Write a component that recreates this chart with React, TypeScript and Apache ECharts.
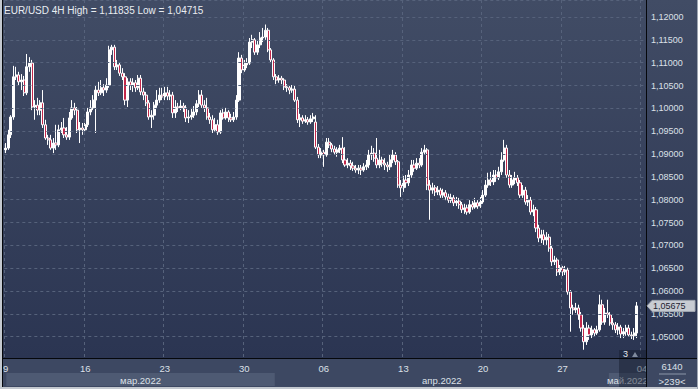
import React, { useEffect, useRef } from "react";
import * as echarts from "echarts";

const TITLE = "EUR/USD 4H High = 1,11835 Low = 1,04715";
const FONT = "'Liberation Sans', Arial, sans-serif";

// 4H candles from 9 Mar 2022, prices x 10000
const opens = [
  10909,10913,10942,10981,11069,11073,11058,11062,11034,11091,
  11099,11003,11007,10996,11012,10964,10935,10931,10913,10924,
  10920,10953,10957,10942,10937,10979,11001,10996,10953,10957,
  10953,10964,10992,11001,11018,11040,11034,11045,11040,11051,
  11128,11134,11091,11095,11077,11069,11018,11058,11051,11056,
  11045,11066,11036,11029,11012,10981,10985,11007,11018,11029,
  11025,11034,11027,11029,10990,11003,11001,11005,11001,10979,
  10981,10985,10992,11010,11029,11007,11001,10981,10975,10953,
  10964,10948,10990,10979,10992,10979,10975,10981,11018,11110,
  11084,11095,11099,11145,11150,11123,11139,11154,11156,11171,
  11128,11106,11069,11062,11066,11062,11047,11045,11040,11042,
  11018,10975,10979,10972,10975,10970,10977,10970,10915,10898,
  10904,10898,10926,10920,10911,10904,10909,10913,10887,10876,
  10880,10874,10869,10865,10869,10865,10872,10876,10898,10902,
  10891,10876,10887,10880,10876,10872,10887,10898,10883,10832,
  10826,10843,10837,10854,10876,10869,10880,10876,10904,10909,
  10832,10821,10826,10817,10821,10810,10815,10806,10799,10804,
  10793,10797,10789,10778,10782,10773,10789,10784,10793,10786,
  10795,10810,10832,10843,10839,10854,10848,10861,10887,10913,
  10854,10832,10843,10848,10837,10810,10821,10795,10799,10773,
  10778,10738,10716,10723,10712,10718,10694,10664,10668,10642,
  10651,10642,10646,10598,10563,10559,10563,10548,10519,10489,
  10519,10504,10515,10508,10515,10570,10532,10552,10548,10530,
  10526,10515,10521,10506,10511,10519,10504,10502,10508,
];
const closes = [
  10913,10942,10981,11069,11073,11058,11062,11034,11091,11099,
  11003,11007,10996,11012,10964,10935,10931,10913,10924,10920,
  10953,10957,10942,10937,10979,11001,10996,10953,10957,10953,
  10964,10992,11001,11018,11040,11034,11045,11040,11051,11128,
  11134,11091,11095,11077,11069,11018,11058,11051,11056,11045,
  11066,11036,11029,11012,10981,10985,11007,11018,11029,11025,
  11034,11027,11029,10990,11003,11001,11005,11001,10979,10981,
  10985,10992,11010,11029,11007,11001,10981,10975,10953,10964,
  10948,10990,10979,10992,10979,10975,10981,11018,11110,11084,
  11095,11099,11145,11150,11123,11139,11154,11156,11171,11128,
  11106,11069,11062,11066,11062,11047,11045,11040,11042,11018,
  10975,10979,10972,10975,10970,10977,10981,10915,10898,10904,
  10898,10926,10920,10911,10904,10909,10913,10887,10876,10880,
  10874,10869,10865,10869,10865,10872,10876,10898,10902,10891,
  10876,10887,10880,10876,10872,10887,10898,10883,10832,10826,
  10843,10837,10854,10876,10869,10880,10876,10904,10909,10832,
  10821,10826,10817,10821,10810,10815,10806,10799,10804,10793,
  10797,10789,10778,10782,10773,10789,10784,10793,10786,10795,
  10810,10832,10843,10839,10854,10848,10861,10887,10913,10854,
  10832,10843,10848,10837,10810,10821,10795,10799,10773,10778,
  10738,10716,10723,10712,10718,10694,10664,10668,10642,10651,
  10642,10646,10598,10563,10559,10563,10548,10519,10489,10519,
  10504,10515,10508,10515,10570,10532,10552,10548,10530,10526,
  10515,10521,10506,10511,10519,10504,10502,10508,10567.5,
];
const highs = [
  10924,10953,10985,11093,11091,11080,11075,11071,11119,11112,
  11106,11018,11023,11018,11040,10975,10942,10942,10935,10964,
  10964,10970,10979,10959,10992,11018,11012,11003,10970,10968,
  10975,11001,11018,11029,11051,11058,11062,11053,11066,11137,
  11139,11139,11106,11101,11088,11077,11066,11066,11066,11062,
  11073,11073,11045,11036,11018,10996,11014,11040,11045,11045,
  11047,11047,11040,11036,11018,11012,11018,11012,11007,10996,
  11001,11005,11018,11040,11040,11018,11023,10990,10985,10979,
  10975,10996,11001,11001,10996,10988,10992,11029,11123,11117,
  11106,11110,11154,11161,11154,11150,11167,11176,11183.5,11176,
  11132,11110,11075,11073,11071,11066,11053,11049,11051,11049,
  11025,10988,10985,10985,10981,10985,10990,10985,10922,10913,
  10909,10935,10935,10924,10918,10915,10920,10937,10915,10891,
  10887,10883,10876,10876,10876,10880,10887,10909,10918,10913,
  10935,10909,10894,10891,10883,10898,10909,10904,10887,10843,
  10852,10854,10865,10887,10887,10891,10891,10913,10920,10913,
  10843,10837,10832,10830,10826,10824,10821,10813,10813,10810,
  10806,10804,10795,10791,10789,10799,10797,10804,10799,10806,
  10821,10843,10859,10861,10865,10865,10872,10904,10931,10920,
  10865,10854,10861,10854,10843,10832,10828,10810,10806,10789,
  10784,10745,10734,10734,10729,10725,10701,10677,10673,10657,
  10655,10655,10651,10602,10570,10574,10570,10554,10526,10532,
  10526,10524,10519,10524,10592,10581,10563,10581,10554,10541,
  10532,10530,10526,10519,10526,10526,10511,10519,10576,
];
const lows = [
  10902,10909,10935,10975,11062,11051,11040,11027,11029,11080,
  10996,10975,10985,10985,10957,10931,10920,10909,10902,10909,
  10915,10946,10935,10931,10931,10975,10985,10946,10924,10942,
  10946,10959,10985,10996,10946,11027,11029,11027,11034,11045,
  11117,11084,11084,11071,11062,11007,11003,11040,11036,11036,
  11040,11029,11018,11005,10975,10957,10975,11001,11012,11018,
  11018,11018,11018,10979,10979,10992,10996,10992,10970,10968,
  10975,10979,10985,11003,11001,10992,10975,10966,10946,10948,
  10942,10944,10975,10975,10970,10970,10970,10975,11014,11077,
  11080,11088,11095,11132,11117,11117,11132,11145,11150,11123,
  11099,11062,11053,11056,11053,11040,11036,11031,11034,11014,
  10968,10959,10966,10968,10964,10966,10970,10911,10891,10891,
  10872,10894,10913,10904,10898,10894,10902,10880,10872,10869,
  10865,10863,10859,10856,10854,10861,10865,10869,10887,10883,
  10869,10869,10872,10865,10861,10865,10880,10876,10826,10806,
  10817,10826,10830,10848,10861,10865,10869,10872,10898,10821,
  10756,10813,10808,10810,10804,10804,10799,10793,10793,10786,
  10786,10780,10771,10769,10767,10769,10778,10780,10780,10782,
  10791,10806,10826,10830,10832,10839,10843,10854,10883,10848,
  10826,10826,10834,10830,10804,10804,10789,10786,10767,10764,
  10729,10707,10705,10701,10701,10686,10655,10657,10633,10635,
  10633,10635,10592,10511,10548,10552,10537,10511,10471.5,10482,
  10493,10497,10500,10504,10511,10526,10526,10541,10524,10515,
  10508,10504,10497,10497,10502,10500,10495,10493,10497,
];

const slotCount = 242; // candle slots on the time axis (239 bars + right margin)
const weekTickIndex = [0, 30, 60, 90, 120, 150, 180, 210, 240];
const weekTickLabels = ["9", "16", "23", "30", "06", "13", "20", "27", "04"];
const monthStartIndex = [0, 102, 228];
const monthLabels = ["мар.2022", "апр.2022", "май.2022"];
const monthShaded = [true, false, true];
const yMin = 1.04534;
const yMax = 1.12372;
const barsTotal = "6140";
const barsVisible = ">239<";
const markerLabel = "3";

const fmtPrice = (v: number) => v.toFixed(5).replace(".", ",");

export default function App() {
  const ref = useRef<HTMLDivElement>(null);
  useEffect(() => {
    const el = ref.current!;
    const chart = echarts.init(el, null, { renderer: "svg" });
    const categories = Array.from({ length: slotCount }, (_, i) => String(i));
    const data = opens.map((o, i) => [o / 1e4, closes[i] / 1e4, lows[i] / 1e4, highs[i] / 1e4]);
    const isTick = (i: number) => weekTickIndex.indexOf(i) >= 0;
    const gridColor = "#56627b";
    const labelColor = "#dce0e8";

    chart.setOption({
      animation: false,
      backgroundColor: "transparent",
      textStyle: { fontFamily: FONT },
      grid: { left: 3, right: 52, top: 0, bottom: 31, show: false },
      xAxis: {
        type: "category",
        data: categories,
        boundaryGap: true,
        z: 3,
        axisLine: { show: false },
        axisTick: { show: false },
        axisLabel: {
          interval: (i: number) => isTick(i),
          formatter: (_v: string, i: number) => {
            const k = weekTickIndex.indexOf(i);
            return k >= 0 ? weekTickLabels[k] : "";
          },
          color: labelColor,
          fontSize: 9.5,
          fontFamily: FONT,
          margin: 5,
        },
        splitLine: {
          show: true,
          interval: (i: number) => isTick(i),
          lineStyle: { color: gridColor, type: [3, 3], width: 1 },
        },
      },
      yAxis: {
        type: "value",
        position: "right",
        min: yMin,
        max: yMax,
        splitNumber: 15,
        minInterval: 0.005,
        maxInterval: 0.005,
        z: 3,
        axisLine: { show: false },
        axisTick: { show: false },
        axisLabel: {
          showMinLabel: false,
          showMaxLabel: false,
          formatter: (v: number) => fmtPrice(v),
          color: labelColor,
          fontSize: 9,
          fontFamily: FONT,
          margin: 5,
        },
        splitLine: { show: true, lineStyle: { color: gridColor, type: [3, 3], width: 1 } },
      },
      series: [
        {
          type: "candlestick",
          data,
          barWidth: 2.6,
          itemStyle: {
            color: "#ffffff",
            color0: "#c3274a",
            borderColor: "#ffffff",
            borderColor0: "#ffffff",
            borderWidth: 1,
          },
        },
      ],
    });

    const px = (i: number) => chart.convertToPixel({ xAxisIndex: 0 }, i) as number;
    const band = px(1) - px(0);
    const plotRight = 646;
    const edges = monthStartIndex.map((i, k) => (k === 0 ? px(i) - band / 2 + 2 : px(i) - band / 2));
    const lastY = chart.convertToPixel({ yAxisIndex: 0 }, closes[closes.length - 1] / 1e4) as number;

    const elements: any[] = [];
    elements.push({ type: "rect", shape: { x: 0, y: 359, width: 698, height: 30 }, style: { fill: "#3d4862" }, z: 1 });
    monthLabels.forEach((m, k) => {
      const x0 = edges[k];
      const x1 = k + 1 < edges.length ? edges[k + 1] : plotRight;
      if (monthShaded[k]) {
        elements.push({ type: "rect", shape: { x: x0, y: 373, width: x1 - x0, height: 13 }, style: { fill: "#4e5a73" }, z: 1 });
      }
      elements.push({
        type: "text",
        style: { text: m, x: (x0 + x1) / 2, y: 380, fill: labelColor, font: `9.5px ${FONT}`, textAlign: "center", textVerticalAlign: "middle" },
        z: 4,
      });
    });
    // marker and overlay near the right end
    elements.push({ type: "rect", shape: { x: 619, y: 350, width: 27, height: 39 }, style: { fill: "rgba(20,27,44,0.45)" }, z: 5 });
    elements.push({
      type: "text",
      style: { text: markerLabel, x: 625.5, y: 354, fill: "#e4e8ee", font: `9px ${FONT}`, textAlign: "center", textVerticalAlign: "middle" },
      z: 6,
    });
    elements.push({ type: "polygon", shape: { points: [[632, 357], [635, 352], [638, 357]] }, style: { fill: "#7f8a9e" }, z: 6 });
    // bottom right box
    elements.push({ type: "rect", shape: { x: 647, y: 359, width: 51, height: 30 }, style: { fill: "#3d4862" }, z: 5 });
    elements.push({
      type: "text",
      style: { text: barsTotal, x: 672, y: 366, fill: labelColor, font: `9.5px ${FONT}`, textAlign: "center", textVerticalAlign: "middle" },
      z: 6,
    });
    elements.push({ type: "line", shape: { x1: 659, y1: 374, x2: 686, y2: 374 }, style: { stroke: "#8c96a8", lineWidth: 1 }, z: 6 });
    elements.push({
      type: "text",
      style: { text: barsVisible, x: 672, y: 381, fill: labelColor, font: `9.5px ${FONT}`, textAlign: "center", textVerticalAlign: "middle" },
      z: 6,
    });
    // axis frame lines
    elements.push({ type: "line", shape: { x1: 0, y1: 358.5, x2: 698, y2: 358.5 }, style: { stroke: "#05070b", lineWidth: 1 }, z: 7 });
    elements.push({ type: "line", shape: { x1: 646.5, y1: 0, x2: 646.5, y2: 389 }, style: { stroke: "#05070b", lineWidth: 1 }, z: 7 });
    elements.push({ type: "line", shape: { x1: 2.5, y1: 0, x2: 2.5, y2: 389 }, style: { stroke: "#05070b", lineWidth: 1 }, z: 7 });
    elements.push({ type: "rect", shape: { x: 0, y: 0, width: 2, height: 389 }, style: { fill: "#c3c8cf" }, z: 8 });
    elements.push({ type: "rect", shape: { x: 0, y: 387, width: 698, height: 2 }, style: { fill: "#c3c8cf" }, z: 8 });
    elements.push({ type: "rect", shape: { x: 697, y: 0, width: 1, height: 389 }, style: { fill: "#9ea6b2" }, z: 8 });
    // last price callout
    elements.push({
      type: "polygon",
      shape: { points: [[647, lastY], [652, lastY - 5.5], [695, lastY - 5.5], [695, lastY + 5.5], [652, lastY + 5.5]] },
      style: { fill: "#c8ccd3", stroke: "#a2a8b2", lineWidth: 1 },
      z: 9,
    });
    elements.push({
      type: "text",
      style: { text: fmtPrice(closes[closes.length - 1] / 1e4), x: 653, y: lastY, fill: "#1c2230", font: `9px ${FONT}`, textAlign: "left", textVerticalAlign: "middle" },
      z: 10,
    });
    // title
    elements.push({
      type: "text",
      style: { text: TITLE, x: 4, y: 10, fill: "#e9edf2", font: `10px ${FONT}`, textAlign: "left", textVerticalAlign: "middle" },
      z: 10,
    });

    chart.setOption({ graphic: { elements } });
    return () => chart.dispose();
  }, []);

  return (
    <div
      ref={ref}
      style={{
        position: "fixed",
        left: 0,
        top: 0,
        width: 698,
        height: 389,
        background: "linear-gradient(to bottom, #414c65 0px, #2b3552 358px, #2b3552 389px)",
      }}
    />
  );
}
